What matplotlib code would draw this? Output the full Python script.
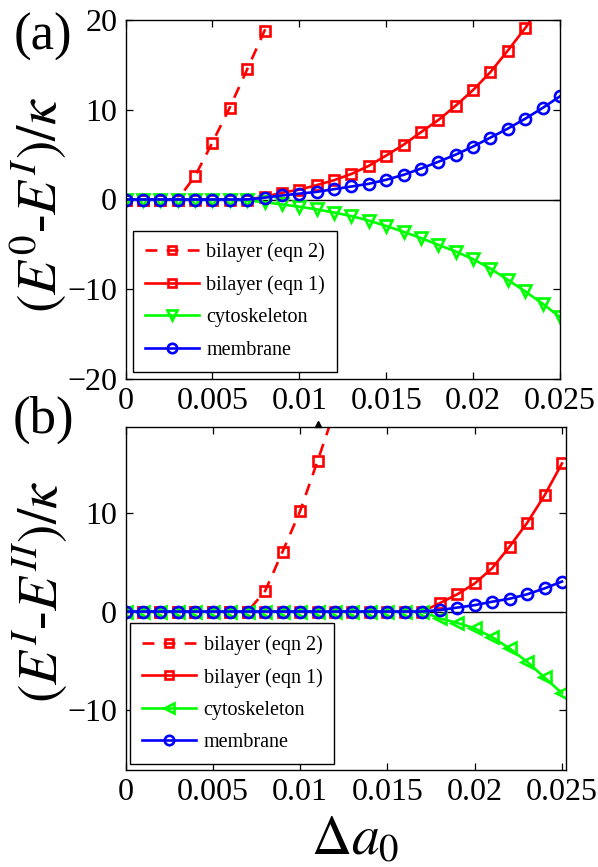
import numpy as np
import matplotlib
matplotlib.use('Agg')
import matplotlib.pyplot as plt

plt.rcParams['font.family'] = ['Liberation Serif', 'DejaVu Serif']
plt.rcParams['mathtext.fontset'] = 'stix'

# DATA
da0 = [0.000, 0.001, 0.002, 0.003, 0.004, 0.005, 0.006, 0.007, 0.008,
       0.009, 0.010, 0.011, 0.012, 0.013, 0.014, 0.015, 0.016, 0.017,
       0.018, 0.019, 0.020, 0.021, 0.022, 0.023, 0.024, 0.025]

# panel (a): E^0 - E^I
bilayer2_a = [0, 0, 0, 0, 2.6, 6.35, 10.25, 14.5, 18.8, 23.1]
bilayer1_a = [0, 0, 0, 0, 0, 0, 0, 0, 0.3, 0.75, 1.1, 1.6, 2.15, 2.85,
              3.75, 4.9, 6.1, 7.5, 8.85, 10.45, 12.2, 14.2, 16.6, 19.1,
              21.9, 25.0]
cyto_a = [0, 0, 0, 0, 0, 0, 0, -0.1, -0.3, -0.55, -0.8, -1.1, -1.45, -1.85,
          -2.35, -2.95, -3.6, -4.3, -5.05, -5.8, -6.65, -7.7, -8.95, -10.25,
          -11.6, -13.1]
membrane_a = [0, 0, 0, 0, 0, 0, 0, 0, 0.2, 0.45, 0.65, 0.85, 1.15, 1.45,
              1.75, 2.2, 2.75, 3.45, 4.2, 5.0, 5.9, 6.9, 7.9, 9.0, 10.2, 11.5]

# panel (b): E^I - E^II
bilayer2_b = [0, 0, 0, 0, 0, 0, 0, 0, 2.1, 6.1, 10.2, 15.3, 20.5]
bilayer1_b = [0] * 18 + [0.85, 1.75, 2.85, 4.4, 6.6, 9.0, 11.8, 15.05]
cyto_b = [0] * 18 + [-0.7, -1.15, -1.7, -2.6, -3.75, -5.1, -6.7, -8.3]
membrane_b = [0] * 18 + [0.15, 0.4, 0.65, 1.0, 1.3, 1.75, 2.35, 3.05]

xticks = [0, 0.005, 0.01, 0.015, 0.02, 0.025]
xticklabels = ['0', '0.005', '0.01', '0.015', '0.02', '0.025']
labels = ['bilayer (eqn 2)', 'bilayer (eqn 1)', 'cytoskeleton', 'membrane']
marker_x = 0.011   # little black arrow above panel (b)

W, H = 598, 867
fig = plt.figure(figsize=(W / 100, H / 100), dpi=100)


def ax_rect(l, r, t, b):
    return [l / W, 1 - b / H, (r - l) / W, (b - t) / H]


ax1 = fig.add_axes(ax_rect(125.5, 560, 20, 379))
ax2 = fig.add_axes(ax_rect(125.5, 566, 427, 770))

mk = dict(markerfacecolor='none', markeredgewidth=1.9, linewidth=1.9)


def draw(ax, b2, b1, cy, mem, cy_marker, ylim, yticks, xmax, legpos):
    x = np.array(da0)
    ax.plot(x, np.zeros(len(x)), 'k-', lw=1.0, zorder=1)
    ax.plot(x[:len(b2)], b2, color='r', ls=(0, (4.5, 3.5)), marker='s',
            ms=7.5, label=labels[0], **mk)
    ax.plot(x, b1, color='r', ls='-', marker='s', ms=7.5, label=labels[1],
            **mk)
    ax.plot(x, cy, color=(0, 1, 0), ls='-', marker=cy_marker, ms=8.5,
            label=labels[2], **mk)
    ax.plot(x, mem, color='b', ls='-', marker='o', ms=8, label=labels[3],
            **mk)
    ax.set_xlim(0, xmax)
    ax.set_ylim(*ylim)
    ax.set_xticks(xticks)
    ax.set_xticklabels(xticklabels)
    ax.set_yticks(yticks)
    ax.tick_params(direction='in', top=True, right=True, length=5,
                   width=0.9, labelsize=23, pad=6)
    for s in ax.spines.values():
        s.set_linewidth(1.0)
    leg = ax.legend(loc='lower left', bbox_to_anchor=legpos, borderaxespad=0,
                    fontsize=14.5, handlelength=2.7, handletextpad=0.35,
                    borderpad=0.6, labelspacing=0.65, fancybox=False,
                    framealpha=1, edgecolor='k', markerscale=0.85)
    leg.get_frame().set_linewidth(1.0)


draw(ax1, bilayer2_a, bilayer1_a, cyto_a, membrane_a, 'v', (-20, 20),
     [-20, -10, 0, 10, 20], 0.025, (0.0166, 0.0203))
draw(ax2, bilayer2_b, bilayer1_b, cyto_b, membrane_b, '<', (-16.1, 18.75),
     [-10, 0, 10], 0.02523, (0.0102, 0.0175))

ax2.plot([marker_x], [1.01], marker='^', color='k', ms=4,
         transform=ax2.get_xaxis_transform(), clip_on=False)

fig.text(43 / W, 1 - 37 / H, '(a)', fontsize=38, ha='center', va='center')
fig.text(43 / W, 1 - 420 / H, '(b)', fontsize=38, ha='center', va='center')
fig.text(38 / W, 1 - 205 / H, r'$(E^0$-$E^I)/\kappa$', fontsize=40,
         rotation=90, ha='center', va='center')
fig.text(40 / W, 1 - 592 / H, r'$(E^I$-$E^{II})/\kappa$', fontsize=40,
         rotation=90, ha='center', va='center')
fig.text(355 / W, 1 - 840 / H, r'$\Delta a_0$', fontsize=40,
         ha='center', va='center')

fig.savefig('out.png', dpi=100)
